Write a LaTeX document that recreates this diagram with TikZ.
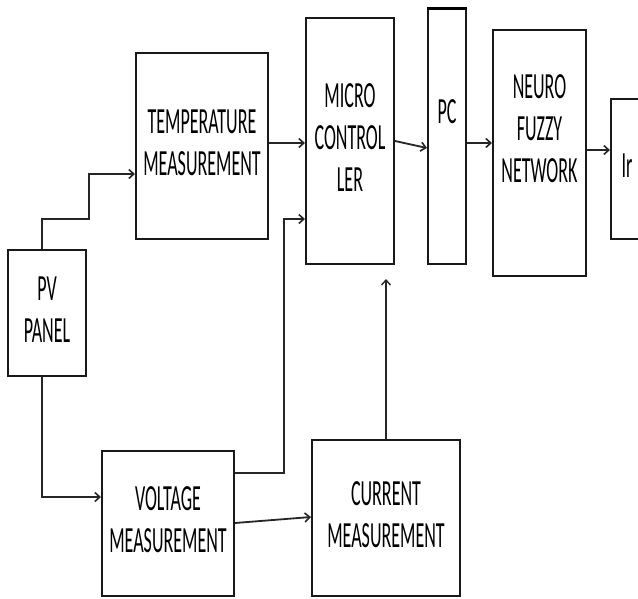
\documentclass[tikz,border=0pt]{standalone}
\usepackage{fontspec}
\setmainfont{Carlito}
\usepackage{graphicx}
\usetikzlibrary{arrows.meta}
\newcommand{\tx}[1]{\scalebox{1}[2.05]{\fontsize{18}{20.5}\selectfont\begin{tabular}{@{}c@{}}#1\end{tabular}}}
\begin{document}
\begin{tikzpicture}[x=1pt,y=-1pt,
  box/.style={draw=black!90, line width=2pt, rectangle, inner sep=0pt, align=center},
  arr/.style={draw=black!85, line width=1.8pt, -{Straight Barb[length=5pt,width=9pt,line width=1.6pt]}},
  thinarr/.style={draw=black!85, line width=1.2pt, -{Straight Barb[length=5pt,width=9pt,line width=1.4pt]}}]
\useasboundingbox (0,0) rectangle (638,598);
\clip (0,0) rectangle (638,598);
\node[box, minimum width=78pt, minimum height=126pt] (pv) at (47,313) {\tx{PV\\PANEL}};
\node[box, minimum width=132pt, minimum height=186pt] (temp) at (202,146) {\tx{TEMPERATURE\\MEASUREMENT}};
\node[box, minimum width=88pt, minimum height=246pt] (micro) at (350,141) {\tx{MICRO\\CONTROL\\LER}};
\node[box, minimum width=38pt, minimum height=255pt] (pc) at (447,136.5) {\tx{PC\\ \mbox{}}};
\node[box, minimum width=93pt, minimum height=246pt] (nf) at (539.5,153) {\tx{NEURO\\FUZZY\\NETWORK\\ \mbox{}}};
\node[box, minimum width=39pt, minimum height=140pt, text width=30pt, align=left] (ir) at (630.5,169) {\hspace*{6pt}\tx{Ir}};
\node[box, minimum width=132pt, minimum height=145pt] (volt) at (168,523.5) {\tx{VOLTAGE\\MEASUREMENT}};
\node[box, minimum width=148pt, minimum height=156pt] (cur) at (386,518) {\tx{CURRENT\\MEASUREMENT}};
\draw[line width=3pt, black] (pc.north west) -- (pc.north east);
\coordinate (t1) at (89,219);
\coordinate (v1) at (284,219);
\draw[arr] ([xshift=-5pt]pv.north) |- (t1) |- (temp.west |- 0,174);
\draw[arr] (temp.east |- 0,143) -- (micro.west |- 0,143);
\draw[arr] (micro.east |- 0,141) -- (pc.west |- 0,148);
\draw[arr] (pc.east |- 0,143) -- (nf.west |- 0,143);
\draw[arr] (nf.east |- 0,150) -- (ir.west |- 0,150);
\draw[arr] ([xshift=-5pt]pv.south) |- (volt.west |- 0,497);
\draw[arr] (volt.east |- 0,473) -| (v1) -- (micro.west |- v1);
\draw[arr] (volt.east |- 0,523) -- (cur.west |- 0,517);
\draw[thinarr, shorten >=14pt] (cur.north) -- (cur.north |- micro.south);
\end{tikzpicture}
\end{document}
